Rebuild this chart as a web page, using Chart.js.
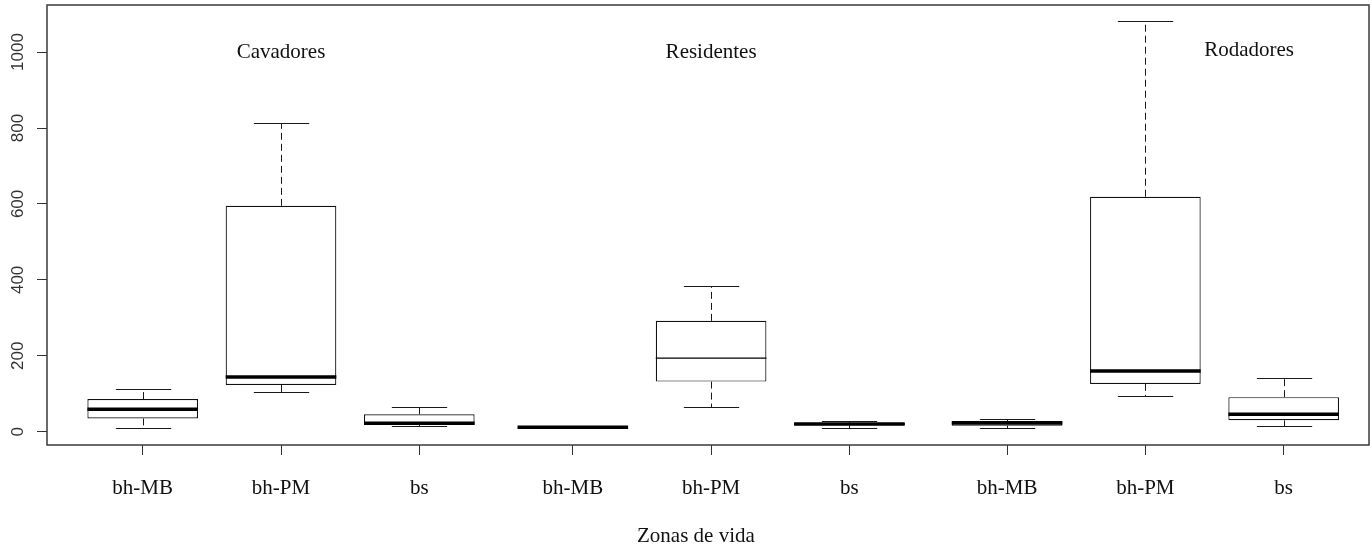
<!DOCTYPE html>
<html>
<head>
<meta charset="utf-8">
<script src="https://cdn.jsdelivr.net/npm/chart.js@4.4.1/dist/chart.umd.min.js"></script>
<style>
  html, body { margin: 0; padding: 0; background: #fff; }
  #wrap { width: 1372px; height: 550px; }
</style>
</head>
<body>
<div id="wrap"><canvas id="zonas" width="1372" height="550"></canvas></div>
<script>
// categories and where each box sits on the x axis
let zoneLabels = ["bh-MB", "bh-PM", "bs", "bh-MB", "bh-PM", "bs", "bh-MB", "bh-PM", "bs"];
let boxPositions = [1, 2, 3, 4.11, 5.11, 6.11, 7.25, 8.25, 9.25];

// five number summaries
let lowerWhisker  = [9, 104, 15, 11, 64, 10, 9, 95, 14];
let lowerQuartile = [35, 123, 18, 12, 132, 17, 16, 126, 30];
let medianValue   = [59, 144, 22, 12, 194, 20, 23, 160, 46];
let upperQuartile = [86, 595, 46, 12, 292, 23, 28, 619, 91];
let upperWhisker  = [112, 812, 66, 13, 384, 27, 33, 1082, 141];

let groupNames = ["Cavadores", "Residentes", "Rodadores"];
let yTicks = [0, 200, 400, 600, 800, 1000];
let xTitle = "Zonas de vida";

// styling
let serif = '"Liberation Serif", "Times New Roman", serif';
let sans = '"Liberation Sans", Arial, sans-serif';
let medianWidths = [3.5, 3.5, 3.5, 3.5, 1.2, 3.5, 3.5, 3.5, 3.5];

// text anchors in data units (x, y)
let groupAnchors = [[2, 1000], [5.11, 1000], [9, 1005]];

function seg(ctx, x1, y1, x2, y2) {
  ctx.beginPath();
  ctx.moveTo(x1, y1);
  ctx.lineTo(x2, y2);
  ctx.stroke();
}

let boxExtras = {
  id: 'boxExtras',
  beforeDatasetsDraw(chart) {
    let ctx = chart.ctx;
    let y = chart.scales.y;
    let bars = chart.getDatasetMeta(0).data;
    ctx.save();
    ctx.strokeStyle = '#1a1a1a';
    ctx.lineWidth = 1;
    bars.forEach((bar, i) => {
      let cx = Math.round(bar.x) + 0.5;
      let half = bar.width / 4;
      let yLo = Math.round(y.getPixelForValue(lowerWhisker[i])) + 0.5;
      let yHi = Math.round(y.getPixelForValue(upperWhisker[i])) + 0.5;
      let yQ1 = y.getPixelForValue(lowerQuartile[i]);
      let yQ3 = y.getPixelForValue(upperQuartile[i]);
      ctx.setLineDash([7, 4]);
      seg(ctx, cx, yQ3, cx, yHi);
      seg(ctx, cx, yQ1, cx, yLo);
      ctx.setLineDash([]);
      seg(ctx, cx - half, yHi, cx + half, yHi);
      seg(ctx, cx - half, yLo, cx + half, yLo);
    });
    ctx.restore();
  },
  afterDatasetsDraw(chart) {
    let ctx = chart.ctx;
    let x = chart.scales.x;
    let y = chart.scales.y;
    let area = chart.chartArea;
    let bars = chart.getDatasetMeta(0).data;
    ctx.save();

    // medians
    ctx.strokeStyle = '#000';
    bars.forEach((bar, i) => {
      ctx.lineWidth = medianWidths[i];
      let ym = y.getPixelForValue(medianValue[i]);
      seg(ctx, bar.x - bar.width / 2, ym, bar.x + bar.width / 2, ym);
    });

    // plot frame
    ctx.strokeStyle = '#3a3a3a';
    ctx.lineWidth = 1.5;
    ctx.strokeRect(area.left, area.top, area.right - area.left, area.bottom - area.top);

    // y tick labels, written along the axis like R does
    ctx.fillStyle = '#333';
    ctx.font = '17px ' + sans;
    ctx.textAlign = 'center';
    ctx.textBaseline = 'middle';
    yTicks.forEach(v => {
      ctx.save();
      ctx.translate(18, y.getPixelForValue(v));
      ctx.rotate(-Math.PI / 2);
      ctx.fillText(String(v), 0, 0);
      ctx.restore();
    });

    // group names and axis title
    ctx.fillStyle = '#111';
    ctx.font = '21px ' + serif;
    groupNames.forEach((name, i) => {
      ctx.fillText(name, x.getPixelForValue(groupAnchors[i][0]), y.getPixelForValue(groupAnchors[i][1]));
    });
    ctx.fillText(xTitle, x.getPixelForValue(5), 536);
    ctx.restore();
  }
};

let boxData = boxPositions.map((p, i) => ({ x: p, y: [lowerQuartile[i], upperQuartile[i]] }));

new Chart(document.getElementById('zonas'), {
  type: 'bar',
  data: {
    datasets: [{
      data: boxData,
      backgroundColor: '#fff',
      borderColor: '#111',
      borderWidth: 1.2,
      borderSkipped: false,
      barPercentage: 0.8,
      categoryPercentage: 1.0
    }]
  },
  options: {
    responsive: false,
    animation: false,
    layout: { padding: { top: 5, right: 3, left: 0, bottom: 0 } },
    plugins: { legend: { display: false }, tooltip: { enabled: false } },
    scales: {
      x: {
        type: 'linear',
        min: 0.308,
        max: 9.867,
        offset: false,
        afterBuildTicks: s => { s.ticks = boxPositions.map(v => ({ value: v })); },
        afterFit: s => { s.height = 105; },
        grid: { display: true, offset: false, drawOnChartArea: false, drawTicks: true, tickLength: 10, color: '#333', lineWidth: 1 },
        border: { display: false },
        ticks: {
          autoSkip: false,
          maxRotation: 0,
          minRotation: 0,
          padding: 21,
          color: '#111',
          font: { family: serif, size: 21 },
          callback: (v, i) => zoneLabels[i]
        }
      },
      y: {
        min: -35,
        max: 1124,
        afterBuildTicks: s => { s.ticks = yTicks.map(v => ({ value: v })); },
        afterFit: s => { s.width = 47; },
        grid: { display: true, drawOnChartArea: false, drawTicks: true, tickLength: 10, color: '#333', lineWidth: 1 },
        border: { display: false },
        ticks: { display: false }
      }
    }
  },
  plugins: [boxExtras]
});
</script>
</body>
</html>
